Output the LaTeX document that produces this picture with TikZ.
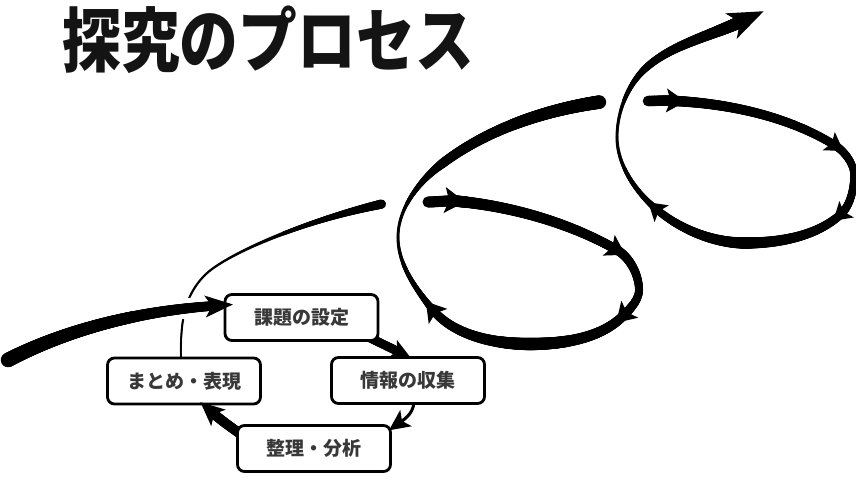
\documentclass[tikz,border=0pt]{standalone}
\usepackage{fontspec}
\usepackage{graphicx}
\newfontfamily\jp{Noto Sans CJK JP}
\usetikzlibrary{decorations.markings}
\tikzset{
  tap/.style={postaction={decoration={markings,
      mark=between positions 0 and 1 step 0.6pt with {%
        \pgfmathsetmacro\tf{\pgfkeysvalueof{/pgf/decoration/mark info/distance from start}/\pgfdecoratedpathlength}%
        \pgfmathsetmacro\tw{0.5*(#1)}%
        \pgfsetfillcolor{black}\pgfpathcircle{\pgfpointorigin}{\tw pt}\pgfusepath{fill}}}, decorate}},
  halo/.style={postaction={decoration={markings,
      mark=between positions 0 and 1 step 0.6pt with {%
        \pgfmathsetmacro\tf{\pgfkeysvalueof{/pgf/decoration/mark info/distance from start}/\pgfdecoratedpathlength}%
        \pgfmathsetmacro\tw{0.5*(#1)+5}%
        \pgfsetfillcolor{white}\pgfpathcircle{\pgfpointorigin}{\tw pt}\pgfusepath{fill}}}, decorate}},
  barb/.style 2 args={postaction={decoration={markings,
      mark=at position #1 with {\fill[black] ({0.8*#2pt},0pt) -- ({-0.8*#2pt},{1.0*#2pt}) -- ({-0.45*#2pt},0pt) -- ({-0.8*#2pt},{-1.0*#2pt}) -- cycle;}}, decorate}},
  head/.style n args={3}{postaction={decoration={markings,
      mark=at position 1 with {\fill[black] (#1pt,0pt) -- (-#2pt,#3pt) -- (0pt,0pt) -- (-#2pt,-#3pt) -- cycle;}}, decorate}},
  box/.style={draw=black, line width=2.8pt, rounded corners=7pt, fill=white,
    minimum width=153pt, minimum height=46pt, inner sep=0pt,
    font=\jp\bfseries\fontsize{19}{19}\selectfont, text=black!78},
}
\begin{document}
\begin{tikzpicture}[x=1pt,y=-1pt]
\useasboundingbox (0,0) rectangle (856,479);

% title
\node[font=\jp\bfseries\fontsize{70}{70}\selectfont, text=black!92, inner sep=0pt] (title) at (268,40) {\scalebox{0.84}[1]{探究のプロセス}};

% knots
\coordinate (s0) at (8,360);
\coordinate (s1) at (212,306);
\coordinate (t0) at (181,360);
\coordinate (t1) at (205,275);
\coordinate (t2) at (382,204);
\coordinate (a1) at (428,202);  \coordinate (b1) at (455,201);
\coordinate (c1) at (617,250);  \coordinate (d1) at (639,290);
\coordinate (e1) at (623,316);  \coordinate (f1) at (530,344);
\coordinate (g1) at (432,309);  \coordinate (h1) at (398,237);
\coordinate (i1) at (443,163);  \coordinate (j1) at (600,102);
\coordinate (a2) at (648,101);  \coordinate (b2) at (676,101);
\coordinate (c2) at (836,146);  \coordinate (d2) at (854,175);
\coordinate (e2) at (840,215);  \coordinate (f2) at (745,243);
\coordinate (g2) at (655,208);  \coordinate (h2) at (617,137);
\coordinate (i2) at (647,67);   \coordinate (j2) at (740,22);
\coordinate (p2a) at (366,336); \coordinate (p2b) at (397,351);
\coordinate (p3a) at (414,400); \coordinate (p3b) at (402,421);
\coordinate (p4a) at (246,438); \coordinate (p4b) at (214,414);

% thin arc from まとめ
\path[tap={2+0.5*\tf}] (t0) .. controls (180,320) and (185,295) .. (t1);
\path[tap={2.5+7*\tf*\tf}] (t1) .. controls (225,255) and (300,222) .. (t2);

% entry arrow (over the thin arc)
\path[halo={14.5-5*\tf}] (s0) .. controls (60,333) and (130,312) .. (s1);
\path[tap={14.5-5*\tf}] (s0) .. controls (60,333) and (130,312) .. (s1);

% loop 1
\path[tap={11}] (a1) .. controls (437,202) and (446,200.5) .. (b1);
\path[tap={11.5-2*\tf}, barb={0}{13}] (b1) .. controls (511,206) and (570,223) .. (c1);
\path[tap={9.5-1.5*\tf}, barb={0}{12}] (c1) .. controls (630,257.5) and (639,275) .. (d1);
\path[tap={8+1.5*\tf}] (d1) .. controls (639,300) and (630,309) .. (e1);
\path[tap={9.5+3*\tf}, barb={0}{12}] (e1) .. controls (600,339) and (562,344) .. (f1);
\path[tap={12.5-4*\tf}] (f1) .. controls (495,344) and (454,336) .. (g1);
\path[tap={8.5-5.5*sqrt(\tf)}, barb={0}{12}] (g1) .. controls (415,288) and (398,264) .. (h1);
\path[tap={3+6.5*\tf*\tf}] (h1) .. controls (398,208) and (420,180) .. (i1);
\path[tap={9.5+4*\tf}] (i1) .. controls (488,129) and (545,110) .. (j1);

% loop 2
\path[tap={10.5}] (a2) .. controls (657,101) and (667,100) .. (b2);
\path[tap={10.5-2*\tf}, barb={0}{12}] (b2) .. controls (731,104) and (790,117) .. (c2);
\path[tap={8.5-1*\tf}, barb={0}{11}] (c2) .. controls (845,152) and (854,164) .. (d2);
\path[tap={7.5+1*\tf}] (d2) .. controls (854,189) and (850.5,206) .. (e2);
\path[tap={8.5+3*\tf}, barb={0}{11}] (e2) .. controls (815,237) and (778,243) .. (f2);
\path[tap={11.5-4*\tf}] (f2) .. controls (713,243) and (679,229) .. (g2);
\path[tap={7.5-4.5*sqrt(\tf)}, barb={0}{11}] (g2) .. controls (634.5,190.5) and (617,164) .. (h2);
\path[tap={3+4.5*\tf*\tf}] (h2) .. controls (617,112) and (628,83.5) .. (i2);
\path[tap={7.5+5*\tf}, head={26}{10}{14}] (i2) .. controls (672,45) and (707,37) .. (j2);

% small cycle shafts
\path[tap={9}] (p2a) -- (p2b);
\path[tap={3+0.5*\tf}] (p3a) .. controls (414,410) and (409,416) .. (p3b);
\path[tap={10}] (p4a) .. controls (235,430) and (222,421) .. (p4b);

% boxes
\node[box] (k1) at (301.5,317.5) {課題の設定};
\node[box] (k2) at (408,380.5) {情報の収集};
\node[box] (k3) at (184,381) {まとめ・表現};
\node[box] (k4) at (314,448.5) {整理・分析};

% heads drawn over the boxes
\path[head={21}{7}{11}] (s0) .. controls (60,333) and (130,312) .. (s1);
\path[head={15}{5}{10}] (p2a) -- (p2b);
\path[head={16}{5}{10}] (p3a) .. controls (414,410) and (409,416) .. (p3b);
\path[head={18}{6}{11}] (p4a) .. controls (235,430) and (222,421) .. (p4b);
\end{tikzpicture}
\end{document}
